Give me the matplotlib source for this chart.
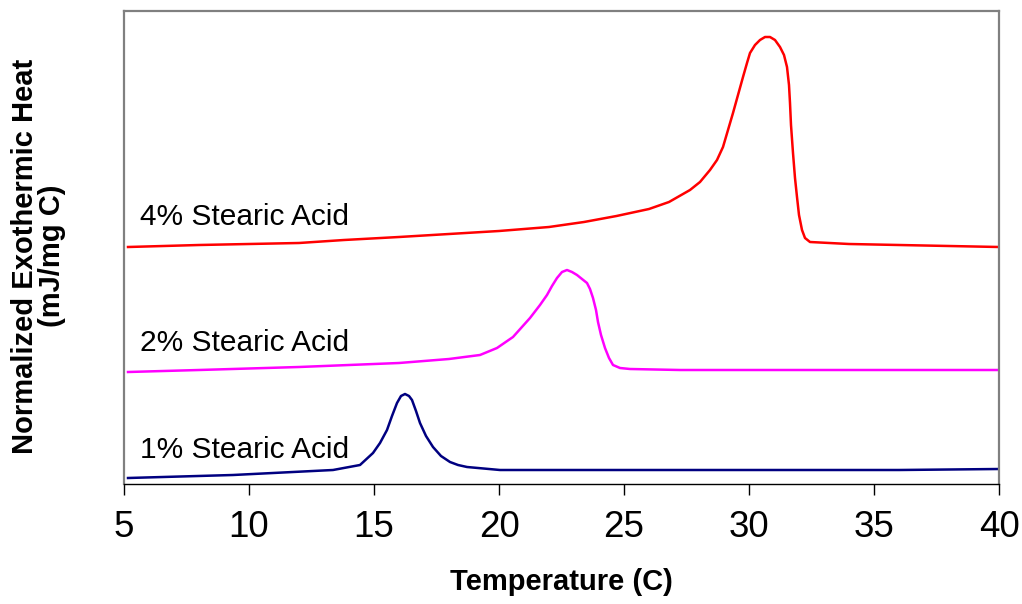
import matplotlib
matplotlib.use("Agg")
import matplotlib.pyplot as plt

plt.rcParams["font.family"] = ["Liberation Sans", "DejaVu Sans"]

# Temperature (C) and normalized exothermic heat (mJ/mg C) for each blend
temp_4 = [5.16, 8.0, 10.0, 12.0, 13.8, 16.0, 18.0, 20.0, 22.0, 23.4, 24.7, 26.0,
          26.8, 27.64, 28.04, 28.44, 28.72, 28.96, 29.16, 29.36, 29.56, 29.76,
          29.92, 30.04, 30.24, 30.44, 30.64, 30.84, 31.04, 31.24, 31.40, 31.52,
          31.60, 31.64, 31.68, 31.76, 31.84, 31.92, 32.00, 32.12, 32.24, 32.44,
          34.0, 36.0, 38.0, 40.0]
heat_4 = [2.37, 2.39, 2.40, 2.41, 2.44, 2.47, 2.50, 2.53, 2.57, 2.62, 2.68, 2.75,
          2.82, 2.94, 3.02, 3.14, 3.24, 3.37, 3.54, 3.71, 3.89, 4.07,
          4.21, 4.31, 4.39, 4.44, 4.47, 4.47, 4.44, 4.37, 4.29, 4.17,
          3.99, 3.81, 3.59, 3.31, 3.06, 2.87, 2.69, 2.54, 2.46, 2.42,
          2.40, 2.39, 2.38, 2.37]

temp_2 = [5.16, 8.0, 12.0, 16.0, 18.0, 19.24, 19.92, 20.56, 21.24, 21.64, 21.92,
          22.12, 22.32, 22.52, 22.72, 22.92, 23.12, 23.32, 23.52, 23.64, 23.76,
          23.88, 23.96, 24.08, 24.24, 24.40, 24.56, 24.84, 25.24, 27.24, 32.0,
          36.0, 40.0]
heat_2 = [1.12, 1.14, 1.17, 1.21, 1.25, 1.29, 1.36, 1.47, 1.66, 1.79, 1.89,
          1.98, 2.06, 2.12, 2.14, 2.12, 2.09, 2.05, 2.01, 1.95, 1.86,
          1.74, 1.62, 1.49, 1.36, 1.26, 1.19, 1.16, 1.15, 1.14, 1.14,
          1.14, 1.14]

temp_1 = [5.16, 9.36, 13.36, 14.44, 14.96, 15.24, 15.52, 15.72, 15.92, 16.08,
          16.24, 16.40, 16.52, 16.68, 16.84, 17.08, 17.36, 17.68, 18.04, 18.36,
          18.72, 20.04, 24.0, 28.0, 32.0, 36.0, 40.0]
heat_1 = [0.06, 0.09, 0.14, 0.19, 0.31, 0.41, 0.54, 0.68, 0.81, 0.88,
          0.90, 0.88, 0.84, 0.73, 0.61, 0.48, 0.37, 0.28, 0.22, 0.19,
          0.17, 0.14, 0.14, 0.14, 0.14, 0.14, 0.15]

labels = ["4% Stearic Acid", "2% Stearic Acid", "1% Stearic Acid"]
label_y = [2.67, 1.41, 0.34]
colors = ["#FF0000", "#FF00FF", "#000080"]
x_ticks = [5, 10, 15, 20, 25, 30, 35, 40]

fig = plt.figure(figsize=(10.22, 6.04), dpi=100)
ax = fig.add_axes([124 / 1022, 120 / 604, 875 / 1022, 473 / 604])

for t, h, c in zip([temp_4, temp_2, temp_1], [heat_4, heat_2, heat_1], colors):
    ax.plot(t, h, color=c, lw=1.8, solid_joinstyle="round")

for lab, y in zip(labels, label_y):
    ax.text(5.62, y, lab, fontsize=21.5, color="black", va="center", ha="left")

ax.set_xlim(5, 40)
ax.set_ylim(0, 4.73)
ax.set_xticks(x_ticks)
ax.set_yticks([])
ax.tick_params(axis="x", direction="out", length=8, width=1, color="black",
               labelsize=26.5, pad=11)

for side in ["left", "top", "right"]:
    ax.spines[side].set_color("#808080")
    ax.spines[side].set_linewidth(1.6)
ax.spines["bottom"].set_color("black")
ax.spines["bottom"].set_linewidth(1.0)

ax.set_xlabel("Temperature (C)", fontsize=21, fontweight="bold", labelpad=16)
ax.set_ylabel("Normalized Exothermic Heat\n(mJ/mg C)", fontsize=21,
              fontweight="bold", linespacing=0.95)
ax.yaxis.set_label_coords(-0.066, 0.482)

fig.savefig("out.png", dpi=100)
